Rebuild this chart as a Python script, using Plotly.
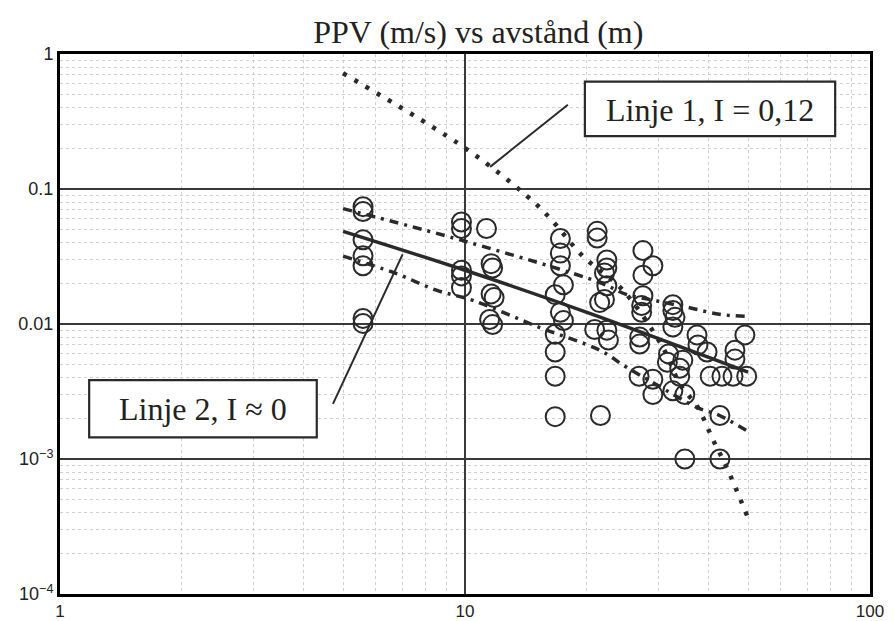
import plotly.graph_objects as go

# Measured PPV (m/s) against distance (m)
dist = [5.6, 5.6, 5.6, 5.6, 5.6, 5.6, 5.6,
        9.8, 9.8, 9.8, 9.8, 9.8,
        11.3, 11.6, 11.7, 11.6, 11.8, 11.5, 11.7,
        17.2, 17.2, 17.2, 17.5, 16.7, 17.2, 17.5, 16.7, 16.7, 16.7, 16.7,
        21.2, 21.2, 22.4, 22.4, 22.1, 22.4, 21.5, 22.1, 20.9, 22.4, 22.6, 21.6,
        27.5, 29.1, 27.5, 27.5, 27.3, 27.3, 27.0, 27.0, 26.9, 29.1, 29.1,
        32.6, 32.6, 33.0, 32.6, 31.8, 31.6, 34.5, 33.9, 33.9, 32.6, 34.9, 34.9,
        37.4, 37.6, 39.6, 40.3, 43.1, 42.6, 42.6,
        49.1, 46.4, 46.4, 45.9, 49.6]
ppv = [0.074, 0.068, 0.042, 0.032, 0.027, 0.011, 0.0101,
       0.057, 0.051, 0.025, 0.0227, 0.0186,
       0.051, 0.028, 0.026, 0.0167, 0.0157, 0.0108, 0.0099,
       0.043, 0.0335, 0.027, 0.0195, 0.0165, 0.0122, 0.0106, 0.0084, 0.0062, 0.0041, 0.00206,
       0.0486, 0.0433, 0.0298, 0.026, 0.0239, 0.0192, 0.0144, 0.0152, 0.0091, 0.0090, 0.0076, 0.0021,
       0.035, 0.027, 0.023, 0.0162, 0.0137, 0.0122, 0.008, 0.0071, 0.0041, 0.0039, 0.003,
       0.0139, 0.0126, 0.0112, 0.0095, 0.006, 0.0052, 0.0054, 0.0047, 0.0041, 0.0032, 0.003, 0.001,
       0.0083, 0.0070, 0.0062, 0.0041, 0.0041, 0.0021, 0.001,
       0.0083, 0.0064, 0.0055, 0.0041, 0.0041]

# Linje 1 (dotted)
l1_x = [5.0, 10.1, 14.2, 16.2, 19.5, 24.5, 30.8, 33.9, 37.6, 40.9, 44.4, 49.9]
l1_y = [0.72, 0.197, 0.089, 0.061, 0.032, 0.0179, 0.0067, 0.0036, 0.0024, 0.0014, 0.00085, 0.00037]

# Linje 2 (solid) with upper / lower dash-dot bounds
l2_x = [5.0, 10.0, 20.0, 50.0]
l2_y = [0.0486, 0.025, 0.0122, 0.0044]
up_x = [5.0, 10.0, 21.5, 25.0, 29.5, 35.5, 42.5, 50.0]
up_y = [0.0716, 0.041, 0.0203, 0.0166, 0.0149, 0.0133, 0.0118, 0.0114]
lo_x = [5.0, 6.7, 8.5, 10.5, 15.3, 21.5, 25.0, 29.5, 37.5, 42.5, 50.0]
lo_y = [0.0318, 0.0239, 0.0178, 0.0149, 0.0094, 0.0064, 0.0048, 0.0036, 0.0024, 0.0021, 0.0016]

x_ticks = [1, 10, 100]
x_tick_text = ["1", "10", "100"]
y_ticks = [1e-4, 1e-3, 1e-2, 1e-1, 1]
y_tick_text = ["10<sup>\u22124</sup>", "10<sup>\u22123</sup>", "0.01", "0.1", "1"]

title_text = "PPV (m/s) vs avstånd (m)"
label1 = "Linje 1, I = 0,12"
label2 = "Linje 2, I \u2248 0"

ink = "#2a2a2a"

fig = go.Figure()
fig.add_trace(go.Scatter(x=l1_x, y=l1_y, mode="lines",
                         line=dict(color=ink, width=4.5, dash="4px,9px", shape="spline")))
fig.add_trace(go.Scatter(x=up_x, y=up_y, mode="lines",
                         line=dict(color=ink, width=3.5, dash="9px,6px,3px,6px", shape="spline")))
fig.add_trace(go.Scatter(x=lo_x, y=lo_y, mode="lines",
                         line=dict(color=ink, width=3.5, dash="9px,6px,3px,6px", shape="spline")))
fig.add_trace(go.Scatter(x=l2_x, y=l2_y, mode="lines",
                         line=dict(color=ink, width=3.5, shape="spline")))
fig.add_trace(go.Scatter(x=dist, y=ppv, mode="markers",
                         marker=dict(symbol="circle-open", size=19, color=ink,
                                     line=dict(width=2, color=ink))))

axis_common = dict(
    type="log", automargin=False,
    showline=True, linecolor="black", linewidth=3, mirror=True,
    showgrid=True, gridcolor="#3a3a3a", gridwidth=1.6,
    ticks="", zeroline=False,
    tickfont=dict(family="Liberation Sans, Arial, sans-serif", size=18, color="#222"),
    minor=dict(dtick="D1", showgrid=True, gridcolor="#d0d0d0", gridwidth=1, griddash="dot"),
)

fig.update_layout(
    width=894, height=621,
    margin=dict(l=60, r=24, t=54, b=27),
    paper_bgcolor="white", plot_bgcolor="white",
    showlegend=False,
    title=dict(text=title_text, x=0.535, xanchor="center", y=0.949, yanchor="middle",
               font=dict(family="Liberation Serif, Times New Roman, serif", size=32, color="#222")),
    xaxis=dict(axis_common, range=[0, 2], tickvals=x_ticks, ticktext=x_tick_text, dtick=1,
               tickfont=dict(family="Liberation Sans, Arial, sans-serif", size=17, color="#222")),
    yaxis=dict(axis_common, range=[-4, 0], tickvals=y_ticks, ticktext=y_tick_text, dtick=1),
)

# Label boxes with leader lines
fig.add_shape(type="line", xref="paper", yref="paper", x0=0.627, y0=0.906, x1=0.531, y1=0.791,
              line=dict(color=ink, width=2))
fig.add_shape(type="line", xref="paper", yref="paper", x0=0.337, y0=0.352, x1=0.423, y1=0.629,
              line=dict(color=ink, width=2))
fig.add_shape(type="rect", xref="paper", yref="paper", x0=0.648, x1=0.957, y0=0.848, y1=0.949,
              line=dict(color=ink, width=2.2), fillcolor="white", layer="above")
fig.add_shape(type="rect", xref="paper", yref="paper", x0=0.036, x1=0.317, y0=0.290, y1=0.396,
              line=dict(color=ink, width=2.2), fillcolor="white", layer="above")

label_font = dict(family="Liberation Serif, Times New Roman, serif", size=32, color="#222")
fig.add_annotation(xref="paper", yref="paper", x=0.802, y=0.897, text=label1,
                   xanchor="center", yanchor="middle", showarrow=False, font=label_font)
fig.add_annotation(xref="paper", yref="paper", x=0.1765, y=0.343, text=label2,
                   xanchor="center", yanchor="middle", showarrow=False, font=label_font)

fig.write_html("out.html")
